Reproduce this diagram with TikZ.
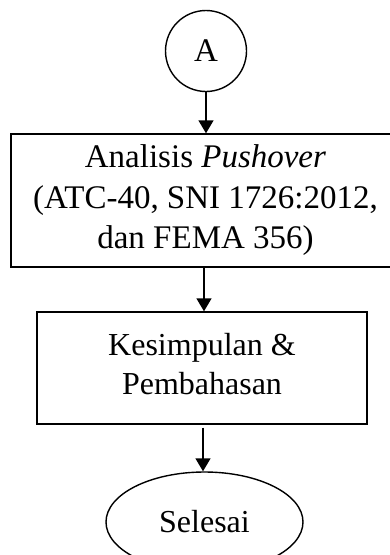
\documentclass[tikz,border=0pt]{standalone}
\usepackage{fontspec}
\setmainfont{Liberation Serif}
\usetikzlibrary{arrows.meta,shapes.geometric}
\begin{document}
\begin{tikzpicture}[x=1pt,y=-1pt,
  line width=1.4pt,
  every node/.style={font=\fontsize{33}{40.5}\selectfont},
  boxnode/.style={draw, rectangle, inner sep=0pt, align=center},
  arr/.style={-{Triangle[length=13pt,width=15pt]}}
]
\useasboundingbox (0,0) rectangle (390,555);
\clip (0,0) rectangle (390,555);
\node[draw,circle,minimum size=81pt,inner sep=0pt] (a) at (206,51) {A};
\node[boxnode, minimum width=389pt, minimum height=133pt] (b1) at (205.5,200.5)
  {Analisis \textit{Pushover}\\(ATC-40, SNI 1726:2012,\\dan FEMA 356)};
\node[boxnode, minimum width=330pt, minimum height=112pt] (b2) at (202,368) {};
\node[align=center, inner sep=0pt, font=\fontsize{32}{39}\selectfont] (t2) at (202,364) {Kesimpulan \&\\Pembahasan};
\node[draw,ellipse,minimum width=197pt,minimum height=100pt,inner sep=0pt, font=\fontsize{32}{39}\selectfont] (e) at (204.5,522) {Selesai};
\draw[arr] (a.south) -- (a.south |- b1.north);
\draw[arr] ([xshift=-1.5pt]b1.south) -- ([xshift=-1.5pt]b1.south |- b2.north);
\draw[arr] ([xshift=1pt,yshift=-3pt]b2.south) -- ([xshift=1pt]b2.south |- e.north);
\end{tikzpicture}
\end{document}
